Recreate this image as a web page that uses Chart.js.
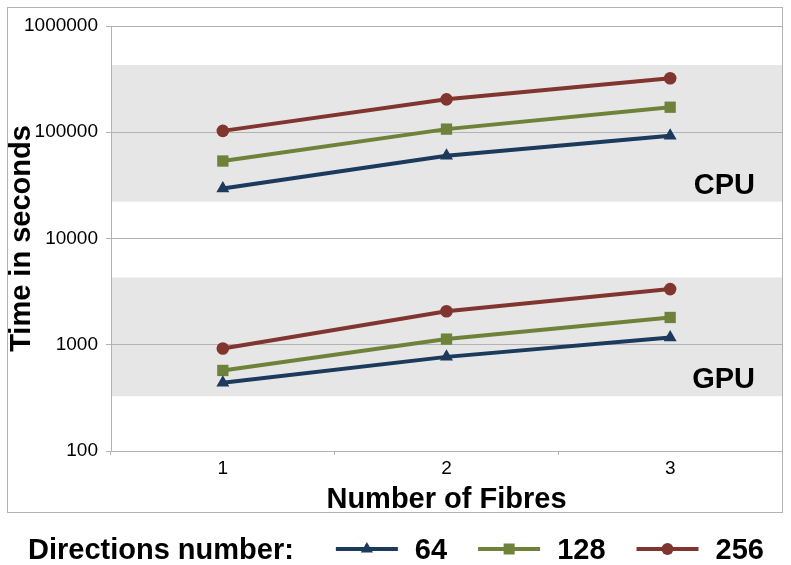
<!DOCTYPE html>
<html>
<head>
<meta charset="utf-8">
<script src="https://cdn.jsdelivr.net/npm/chart.js@4"></script>
<style>
  html, body { margin: 0; padding: 0; background: #ffffff; }
  #wrap { width: 791px; height: 565px; }
</style>
</head>
<body>
<div id="wrap"><canvas id="c" width="791" height="565"></canvas></div>
<script>
// ---- data ----
const fibres = ['1', '2', '3'];
const directionLabels = ['64', '128', '256'];
const cpu64  = [29600, 60100, 92700];
const cpu128 = [53600, 107000, 172000];
const cpu256 = [103000, 204000, 322000];
const gpu64  = [438, 769, 1172];
const gpu128 = [573, 1130, 1806];
const gpu256 = [923, 2070, 3340];
const yTicks = [100, 1000, 10000, 100000, 1000000];
const bandNames = ['CPU', 'GPU'];
const bandLow  = [22200, 328];
const bandHigh = [429000, 4300];

// ---- styles ----
const colors = ['#1b3a5c', '#6e8339', '#81352f'];
const pointStyles = ['triangle', 'rect', 'circle'];
const pointRadii = [7.5, 8, 6.3];
const FONT = '"Liberation Sans", Arial, sans-serif';
const GRID = '#b3b3b3';

function mkDataset(label, data, idx) {
  return {
    label: label,
    data: data,
    borderColor: colors[idx],
    backgroundColor: colors[idx],
    borderWidth: 4,
    pointStyle: pointStyles[idx],
    pointRadius: pointRadii[idx],
    pointHoverRadius: pointRadii[idx],
    pointBorderWidth: 0,
    pointBackgroundColor: colors[idx],
    tension: 0,
    fill: false
  };
}

const cpuSeries = [cpu64, cpu128, cpu256];
const gpuSeries = [gpu64, gpu128, gpu256];
const datasets = [];
for (let i = 0; i < 3; i++) datasets.push(mkDataset(directionLabels[i], cpuSeries[i], i));
for (let i = 0; i < 3; i++) datasets.push(mkDataset(directionLabels[i], gpuSeries[i], i));

const decorPlugin = {
  id: 'decor',
  beforeDraw(chart) {
    const ctx = chart.ctx;
    const area = chart.chartArea;
    const y = chart.scales.y;
    ctx.save();
    // outer frame
    ctx.strokeStyle = GRID;
    ctx.lineWidth = 1;
    ctx.strokeRect(7.5, 7.5, 775, 505);
    // bands
    ctx.fillStyle = '#e6e6e6';
    for (let i = 0; i < bandNames.length; i++) {
      const top = y.getPixelForValue(bandHigh[i]);
      const bot = y.getPixelForValue(bandLow[i]);
      ctx.fillRect(area.left, top, area.right - area.left, bot - top);
    }
    ctx.restore();
  },
  afterDatasetsDraw(chart) {
    const ctx = chart.ctx;
    const area = chart.chartArea;
    const y = chart.scales.y;
    ctx.save();
    ctx.fillStyle = '#000';
    ctx.font = 'bold 29px ' + FONT;
    ctx.textAlign = 'right';
    ctx.textBaseline = 'alphabetic';
    for (let i = 0; i < bandNames.length; i++) {
      const bot = y.getPixelForValue(bandLow[i]);
      ctx.fillText(bandNames[i], area.right - 27, bot - 8);
    }
    ctx.restore();
  },
  afterDraw(chart) {
    const ctx = chart.ctx;
    ctx.save();
    ctx.fillStyle = '#000';
    ctx.font = 'bold 29px ' + FONT;
    ctx.textAlign = 'left';
    ctx.textBaseline = 'alphabetic';
    const baseY = 559;
    const midY = 549;
    let x = 28;
    const title = 'Directions number:';
    ctx.fillText(title, x, baseY);
    x += ctx.measureText(title).width + 42;
    for (let i = 0; i < 3; i++) {
      const c = colors[i];
      ctx.strokeStyle = c;
      ctx.fillStyle = c;
      ctx.lineWidth = 4;
      ctx.beginPath();
      ctx.moveTo(x, midY);
      ctx.lineTo(x + 62, midY);
      ctx.stroke();
      const cx = x + 31;
      ctx.beginPath();
      if (pointStyles[i] === 'triangle') {
        const r = 7;
        ctx.moveTo(cx, midY - r);
        ctx.lineTo(cx + r * 0.866, midY + r / 2);
        ctx.lineTo(cx - r * 0.866, midY + r / 2);
        ctx.closePath();
      } else if (pointStyles[i] === 'rect') {
        ctx.rect(cx - 5.5, midY - 5.5, 11, 11);
      } else {
        ctx.arc(cx, midY, 6, 0, Math.PI * 2);
      }
      ctx.fill();
      x += 62 + 17;
      ctx.fillStyle = '#000';
      const lbl = chart.data.datasets[i].label;
      ctx.fillText(lbl, x, baseY);
      x += ctx.measureText(lbl).width + 31;
    }
    ctx.restore();
  }
};

new Chart(document.getElementById('c'), {
  type: 'line',
  data: { labels: fibres, datasets: datasets },
  options: {
    responsive: false,
    animation: false,
    devicePixelRatio: 1,
    layout: { padding: { left: 0, top: 26, right: 9, bottom: 0 } },
    plugins: { legend: { display: false }, tooltip: { enabled: false } },
    scales: {
      x: {
        type: 'category',
        offset: true,
        grid: { offset: true, drawOnChartArea: false, drawTicks: true, tickLength: 4, color: GRID, lineWidth: 1 },
        border: { display: true, color: GRID, width: 1 },
        ticks: { color: '#000', font: { family: FONT, size: 19 }, padding: 2, maxRotation: 0 },
        title: { display: true, text: 'Number of Fibres', color: '#000',
                 font: { family: FONT, size: 29, weight: 'bold' }, padding: { top: 0, bottom: 48 } },
        afterFit(scale) { scale.height = 114; }
      },
      y: {
        type: 'logarithmic',
        min: 100,
        max: 1000000,
        grid: { color: GRID, lineWidth: 1, drawTicks: true, tickLength: 5 },
        border: { display: true, color: GRID, width: 1 },
        afterBuildTicks(scale) { scale.ticks = yTicks.map(v => ({ value: v })); },
        ticks: {
          color: '#000',
          font: { family: FONT, size: 19 },
          padding: 8,
          autoSkip: false,
          callback: (v) => String(v)
        },
        title: { display: true, text: 'Time in seconds', color: '#000',
                 font: { family: FONT, size: 29, weight: 'bold' }, padding: { top: 5, bottom: 0 } },
        afterFit(scale) { scale.width = 111; }
      }
    }
  },
  plugins: [decorPlugin]
});
</script>
</body>
</html>
